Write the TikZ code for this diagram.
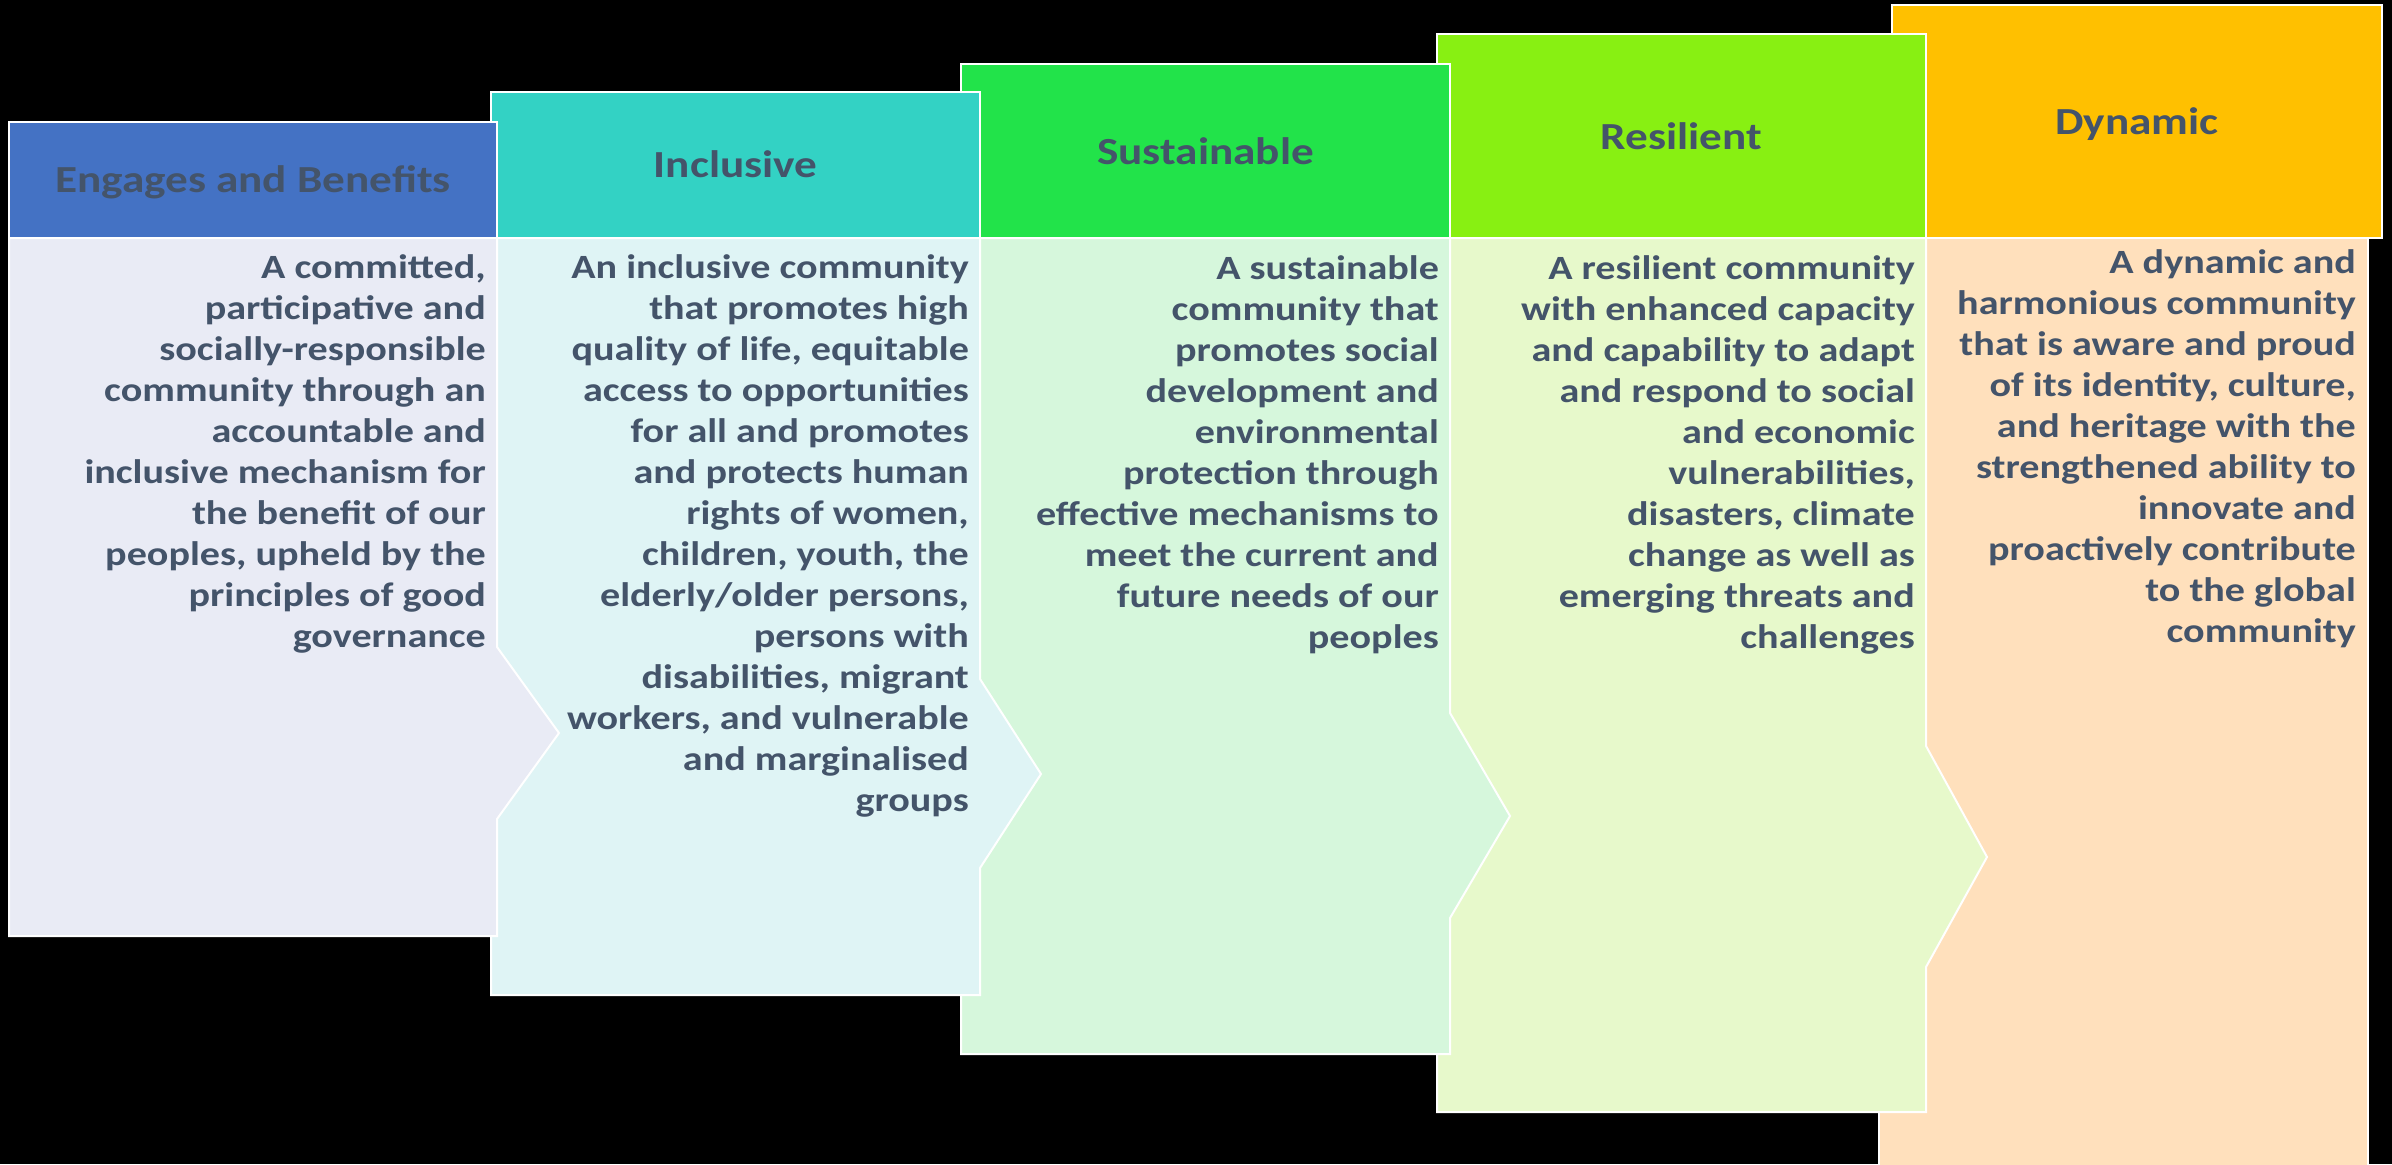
\documentclass[tikz,border=0pt]{standalone}
\usepackage{fontspec}
\setmainfont{Carlito}[FakeStretch=1.18]
\definecolor{ink}{HTML}{44546A}
\definecolor{hdrA}{HTML}{4472C4}
\definecolor{bodA}{HTML}{E9EBF5}
\definecolor{hdrB}{HTML}{33D2C4}
\definecolor{bodB}{HTML}{DFF4F5}
\definecolor{hdrC}{HTML}{22E34A}
\definecolor{bodC}{HTML}{D6F7DC}
\definecolor{hdrD}{HTML}{88F012}
\definecolor{bodD}{HTML}{E7F9CB}
\definecolor{hdrE}{HTML}{FFC000}
\definecolor{bodE}{HTML}{FFE0BC}
\tikzset{
  panel/.style={draw=white, line width=2pt, line join=miter},
  title/.style={anchor=base, inner sep=0pt, text=ink,
    font=\fontsize{38.3}{46}\selectfont\bfseries},
  blurb/.style={anchor=north east, inner sep=0pt, align=right, text=ink,
    font=\fontsize{34}{41}\selectfont\bfseries},
}
% first line of each description starts with a strut, so the node's
% top lies a fixed 0.7 baselineskip above the first baseline
\newcommand{\firstline}{\rule{0pt}{28.7pt}}
\begin{document}
\begin{tikzpicture}[x=1pt, y=-1pt]
  \fill[black] (0,0) rectangle (2392,1164);
  \useasboundingbox (0,0) rectangle (2392,1164);

  % Dynamic (back)
  \draw[panel, fill=bodE] (1879,238) -- (2368,238) -- (2368,1200) -- (1879,1200) -- cycle;
  \draw[panel, fill=hdrE] (1892,5) rectangle (2382,238);
  % Resilient
  \draw[panel, fill=bodD] (1437,238) -- (1926,238) -- (1926,746) -- (1987,857)
    -- (1926,967) -- (1926,1112) -- (1437,1112) -- cycle;
  \draw[panel, fill=hdrD] (1437,34) rectangle (1926,238);
  % Sustainable
  \draw[panel, fill=bodC] (961,238) -- (1450,238) -- (1450,713) -- (1510,816)
    -- (1450,918) -- (1450,1054) -- (961,1054) -- cycle;
  \draw[panel, fill=hdrC] (961,64) rectangle (1450,238);
  % Inclusive
  \draw[panel, fill=bodB] (491,238) -- (980,238) -- (980,679) -- (1041,774)
    -- (980,868) -- (980,995) -- (491,995) -- cycle;
  \draw[panel, fill=hdrB] (491,92) rectangle (980,238);
  % Engages and Benefits (front)
  \draw[panel, fill=bodA] (9,238) -- (497,238) -- (497,647) -- (559,733)
    -- (497,819) -- (497,936) -- (9,936) -- cycle;
  \draw[panel, fill=hdrA] (9,122) rectangle (497,238);

  % Titles
  \node[title] (tA) at (253,192) {Engages and Benefits};
  \node[title] (tB) at (735.5,177) {Inclusive};
  \node[title] (tC) at (1205.5,164) {Sustainable};
  \node[title] (tD) at (1681.5,149) {Resilient};
  \node[title] (tE) at (2137,134) {Dynamic};

  % Descriptions
  \node[blurb] (dA) at (486,249.3) {\firstline A committed,\\participative and\\socially-responsible\\community through an\\accountable and\\inclusive mechanism for\\the benefit of our\\peoples, upheld by the\\principles of good\\governance};
  \node[blurb] (dB) at (969,249.3) {\firstline An inclusive community\\that promotes high\\quality of life, equitable\\access to opportunities\\for all and promotes\\and protects human\\rights of women,\\children, youth, the\\elderly/older persons,\\persons with\\disabilities, migrant\\workers, and vulnerable\\and marginalised\\groups};
  \node[blurb] (dC) at (1439,250.3) {\firstline A sustainable\\community that\\promotes social\\development and\\environmental\\protection through\\effective mechanisms to\\meet the current and\\future needs of our\\peoples};
  \node[blurb] (dD) at (1915,250.3) {\firstline A resilient community\\with enhanced capacity\\and capability to adapt\\and respond to social\\and economic\\vulnerabilities,\\disasters, climate\\change as well as\\emerging threats and\\challenges};
  \node[blurb] (dE) at (2356,244.3) {\firstline A dynamic and\\harmonious community\\that is aware and proud\\of its identity, culture,\\and heritage with the\\strengthened ability to\\innovate and\\proactively contribute\\to the global\\community};
\end{tikzpicture}
\end{document}
